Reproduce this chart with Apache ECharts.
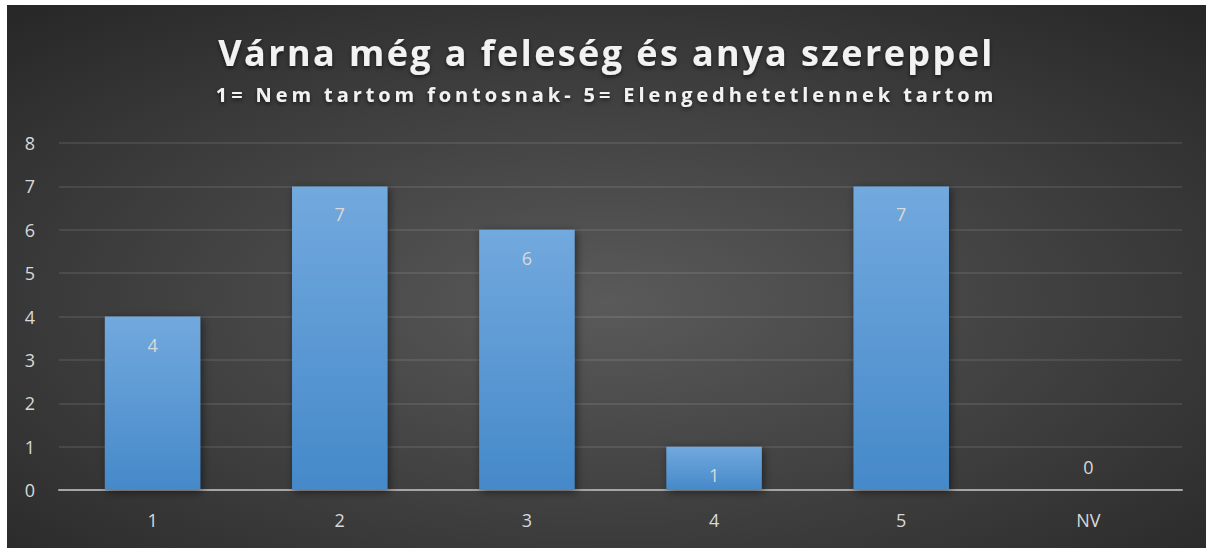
<!DOCTYPE html>
<html>
<head>
<meta charset="utf-8">
<script src="https://cdn.jsdelivr.net/npm/echarts@6/dist/echarts.min.js"></script>
<style>
html,body{margin:0;padding:0;background:#fff;}
#main{position:absolute;left:7px;top:5px;width:1199px;height:543px;}
/* title spacing, like the original's spaced-out heading */
#main text[style*="36px"]{letter-spacing:2.4px;}
#main text[style*="20px"]{letter-spacing:3.9px;}
</style>
</head>
<body>
<div id="main"></div>
<script>
var categories = ['1', '2', '3', '4', '5', 'NV'];
var values = [4, 7, 6, 1, 7, 0];
var titleText = 'Várna még a feleség és anya szereppel';
var subText = '1= Nem tartom fontosnak- 5= Elengedhetetlennek tartom';

window.onload = function () {
	var myChart = echarts.init(document.getElementById('main'), null, { renderer: 'svg' });
	var barData = values.map(function (v) {
		if (v === 0) {
			return { value: v, label: { position: 'top', distance: 14 } };
		}
		return v;
	});
	myChart.setOption({
		backgroundColor: {
			type: 'radial', x: 0.5, y: 0.55, r: 0.75,
			colorStops: [
				{ offset: 0, color: '#5a5a5a' },
				{ offset: 1, color: '#262626' }
			]
		},
		title: {
			text: titleText,
			subtext: subText,
			left: 'center',
			top: 24,
			itemGap: 14,
			textStyle: {
				color: '#f2f2f2', fontFamily: 'Open Sans', fontWeight: 'bold', fontSize: 36,
				textShadowColor: 'rgba(0,0,0,0.6)', textShadowBlur: 4, textShadowOffsetY: 2
			},
			subtextStyle: {
				color: '#f2f2f2', fontFamily: 'Open Sans', fontWeight: 'bold', fontSize: 20,
				textShadowColor: 'rgba(0,0,0,0.6)', textShadowBlur: 4, textShadowOffsetY: 2
			}
		},
		grid: { left: 52, right: 24, top: 138, bottom: 58 },
		xAxis: {
			type: 'category',
			data: categories,
			axisTick: { show: false },
			axisLine: { lineStyle: { color: '#a6a6a6', width: 2 } },
			axisLabel: { color: '#d9d9d9', fontSize: 18, fontFamily: 'Open Sans', margin: 21 }
		},
		yAxis: {
			type: 'value',
			min: 0, max: 8, interval: 1,
			axisLabel: { color: '#d9d9d9', fontSize: 18, fontFamily: 'Open Sans', margin: 24 },
			splitLine: { lineStyle: { color: 'rgba(255,255,255,0.12)', width: 1.5 } }
		},
		series: [{
			type: 'bar',
			data: barData,
			barWidth: '51%',
			itemStyle: {
				color: {
					type: 'linear', x: 0, y: 0, x2: 0, y2: 1,
					colorStops: [
						{ offset: 0, color: '#72a9de' },
						{ offset: 1, color: '#4589c9' }
					]
				},
				shadowColor: 'rgba(0,0,0,0.5)', shadowBlur: 8, shadowOffsetX: 2, shadowOffsetY: 2
			},
			label: {
				show: true, position: 'insideTop', distance: 19,
				color: '#d9d9d9', fontSize: 18, fontFamily: 'Open Sans'
			}
		}]
	});
};
</script>
</body>
</html>
